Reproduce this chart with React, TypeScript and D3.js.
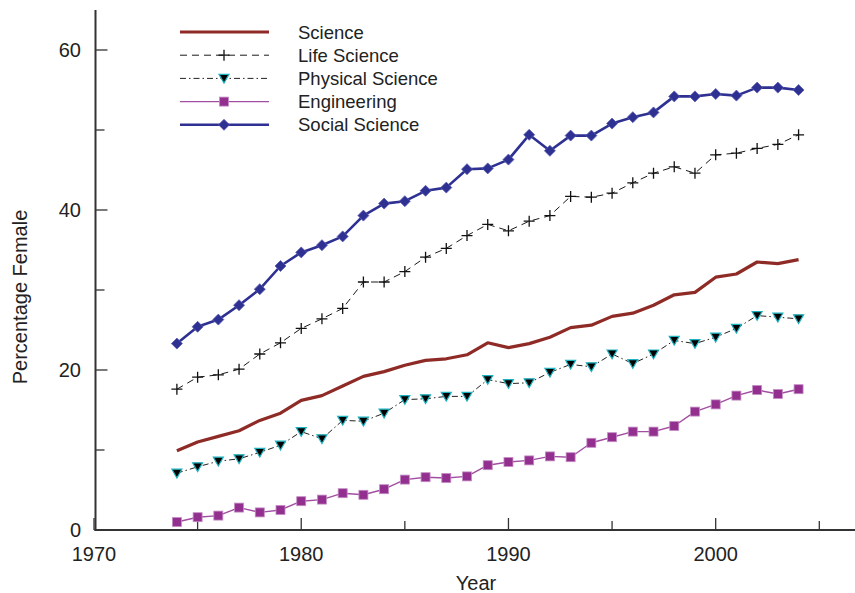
import React from "react";
import * as d3 from "d3";

const years = d3.range(1974, 2005);
const science = [9.9, 11.0, 11.7, 12.4, 13.7, 14.6, 16.2, 16.8, 18.0, 19.2, 19.8, 20.6, 21.2, 21.4, 21.9, 23.4, 22.8, 23.3, 24.1, 25.3, 25.6, 26.7, 27.1, 28.1, 29.4, 29.7, 31.6, 32.0, 33.5, 33.3, 33.8];
const lifeScience = [17.6, 19.1, 19.4, 20.1, 22.0, 23.4, 25.2, 26.4, 27.7, 31.0, 31.0, 32.3, 34.1, 35.2, 36.8, 38.2, 37.4, 38.6, 39.3, 41.7, 41.6, 42.1, 43.4, 44.6, 45.4, 44.6, 46.9, 47.1, 47.7, 48.2, 49.4];
const physicalScience = [7.1, 7.9, 8.6, 8.9, 9.7, 10.6, 12.3, 11.4, 13.7, 13.6, 14.6, 16.3, 16.4, 16.7, 16.7, 18.8, 18.3, 18.4, 19.7, 20.7, 20.4, 22.0, 20.8, 22.0, 23.7, 23.3, 24.1, 25.2, 26.8, 26.6, 26.4];
const engineering = [1.0, 1.6, 1.8, 2.8, 2.2, 2.5, 3.6, 3.8, 4.6, 4.4, 5.1, 6.3, 6.6, 6.5, 6.7, 8.1, 8.5, 8.7, 9.2, 9.1, 10.9, 11.6, 12.3, 12.3, 13.0, 14.8, 15.7, 16.8, 17.5, 17.0, 17.6];
const socialScience = [23.3, 25.4, 26.3, 28.1, 30.1, 33.0, 34.7, 35.6, 36.7, 39.3, 40.8, 41.1, 42.4, 42.8, 45.1, 45.2, 46.3, 49.4, 47.4, 49.3, 49.3, 50.8, 51.6, 52.2, 54.2, 54.2, 54.5, 54.3, 55.3, 55.3, 55.0];

const seriesNames = ["Science", "Life Science", "Physical Science", "Engineering", "Social Science"];
const xMajorTicks = [1970, 1980, 1990, 2000];
const xMinorTicks = [1975, 1985, 1995, 2005];
const yMajorTicks = [0, 20, 40, 60];
const yMinorTicks = [10, 30, 50];

const FONT = "'Liberation Sans', Arial, Helvetica, sans-serif";

type Style = {
  color: string;
  width: number;
  dash?: string;
  marker: "none" | "plus" | "tri" | "square" | "diamond";
  mFill?: string;
  mStroke?: string;
};

const styles: Style[] = [
  { color: "#8f2b26", width: 3.2, marker: "none" },
  { color: "#1a1a1a", width: 1, dash: "7,5", marker: "plus", mStroke: "#111" },
  { color: "#222", width: 1, dash: "6,3,1.5,3", marker: "tri", mFill: "#000", mStroke: "#1fb3c0" },
  { color: "#a24ea2", width: 1.4, marker: "square", mFill: "#93308f", mStroke: "#c48cc4" },
  { color: "#2e3192", width: 2.6, marker: "diamond", mFill: "#2e3192", mStroke: "#5a5db0" },
];

const allSeries = [science, lifeScience, physicalScience, engineering, socialScience];

function Marker({ kind, cx, cy, st }: { kind: Style["marker"]; cx: number; cy: number; st: Style }) {
  if (kind === "plus") {
    const s = 5.5;
    return (
      <path d={`M${cx - s},${cy}H${cx + s}M${cx},${cy - s}V${cy + s}`} stroke={st.mStroke} strokeWidth={1.3} fill="none" />
    );
  }
  if (kind === "tri") {
    const s = 5;
    return (
      <path d={`M${cx - s},${cy - s * 0.8}L${cx + s},${cy - s * 0.8}L${cx},${cy + s * 0.95}Z`} fill={st.mFill} stroke={st.mStroke} strokeWidth={1.2} />
    );
  }
  if (kind === "square") {
    const s = 4.5;
    return <rect x={cx - s} y={cy - s} width={2 * s} height={2 * s} fill={st.mFill} stroke={st.mStroke} strokeWidth={0.8} />;
  }
  if (kind === "diamond") {
    const s = 5.5;
    return (
      <path d={`M${cx},${cy - s}L${cx + s},${cy}L${cx},${cy + s}L${cx - s},${cy}Z`} fill={st.mFill} stroke={st.mStroke} strokeWidth={0.8} />
    );
  }
  return null;
}

export default function App() {
  const W = 855, H = 593;
  const x = d3.scaleLinear().domain([1970, 2005]).range([94, 819.3]);
  const y = d3.scaleLinear().domain([0, 65]).range([530, 10]);
  const axisX0 = 95.5;
  const axisY0 = 530;

  const line = d3
    .line<number>()
    .x((_, i) => x(years[i]))
    .y((d) => y(d));

  const legendX1 = 180, legendX2 = 269, legendTextX = 298;
  const legendY = (i: number) => 32 + i * 23.2;

  return (
    <svg width={W} height={H} style={{ position: "absolute", left: 0, top: 0, background: "#fff" }} fontFamily={FONT}>
      <rect x={0} y={0} width={W} height={H} fill="#fff" />
      {/* axes */}
      <line x1={axisX0} x2={axisX0} y1={y(65)} y2={axisY0 + 1} stroke="#333" strokeWidth={2} />
      <line x1={axisX0 - 1} x2={W} y1={axisY0} y2={axisY0} stroke="#333" strokeWidth={2.2} />
      {yMajorTicks.map((t) => (
        <g key={"ym" + t}>
          <line x1={axisX0} x2={axisX0 + 12} y1={y(t)} y2={y(t)} stroke="#333" strokeWidth={1.3} />
          <text x={81} y={y(t)} dy="0.36em" textAnchor="end" fontSize={20} fill="#222">
            {t}
          </text>
        </g>
      ))}
      {yMinorTicks.map((t) => (
        <line key={"yn" + t} x1={axisX0} x2={axisX0 + 9} y1={y(t)} y2={y(t)} stroke="#333" strokeWidth={1.3} />
      ))}
      {xMajorTicks.map((t) => (
        <g key={"xm" + t}>
          <line x1={x(t)} x2={x(t)} y1={axisY0} y2={axisY0 - 12} stroke="#333" strokeWidth={1.3} />
          <text x={x(t)} y={561} textAnchor="middle" fontSize={20} fill="#222">
            {t}
          </text>
        </g>
      ))}
      {xMinorTicks.map((t) => (
        <line key={"xn" + t} x1={x(t)} x2={x(t)} y1={axisY0} y2={axisY0 - 9} stroke="#333" strokeWidth={1.3} />
      ))}
      <text x={476} y={590} textAnchor="middle" fontSize={20} fill="#222">
        Year
      </text>
      <text transform="translate(27,297) rotate(-90)" textAnchor="middle" fontSize={20} fill="#222">
        Percentage Female
      </text>

      {/* series */}
      {allSeries.map((vals, si) => {
        const st = styles[si];
        return (
          <g key={seriesNames[si]}>
            <path d={line(vals) || ""} fill="none" stroke={st.color} strokeWidth={st.width} strokeDasharray={st.dash} strokeLinejoin="round" />
            {vals.map((v, i) => (
              <Marker key={i} kind={st.marker} cx={x(years[i])} cy={y(v)} st={st} />
            ))}
          </g>
        );
      })}

      {/* legend */}
      {seriesNames.map((name, i) => {
        const st = styles[i];
        const ly = legendY(i);
        return (
          <g key={"lg" + name}>
            <line x1={legendX1} x2={legendX2} y1={ly} y2={ly} stroke={st.color} strokeWidth={st.width} strokeDasharray={st.dash} />
            <Marker kind={st.marker} cx={224} cy={ly} st={st} />
            <text x={legendTextX} y={ly} dy="0.36em" fontSize={18.5} fill="#222">
              {name}
            </text>
          </g>
        );
      })}
    </svg>
  );
}
